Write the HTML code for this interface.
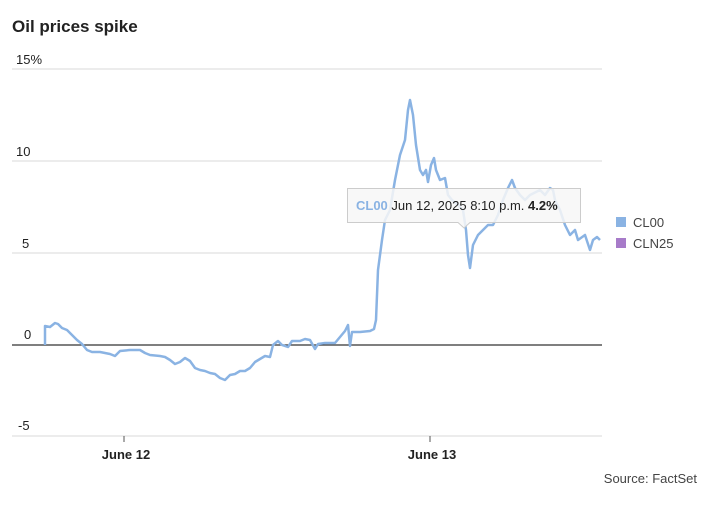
<!DOCTYPE html>
<html><head><style>
body{margin:0;background:#fff;font-family:"Liberation Sans",sans-serif;}
</style></head><body>
<svg width="710" height="511" xmlns="http://www.w3.org/2000/svg" style="display:block">
<text x="12" y="32" font-size="17" font-weight="bold" fill="#222">Oil prices spike</text>
<g stroke="#e6e6e6" stroke-width="1.5">
<line x1="12" x2="602" y1="69" y2="69"/><line x1="12" x2="602" y1="161" y2="161"/>
<line x1="12" x2="602" y1="253" y2="253"/><line x1="12" x2="602" y1="436" y2="436"/>
</g>
<line x1="12" x2="602" y1="345" y2="345" stroke="#333" stroke-width="1.2"/>
<g font-size="13" fill="#222">
<text x="16" y="64">15%</text><text x="16" y="156">10</text><text x="22" y="248">5</text>
<text x="24" y="339">0</text><text x="18" y="430">-5</text>
</g>
<line x1="124" x2="124" y1="436" y2="442" stroke="#555"/>
<line x1="430" x2="430" y1="436" y2="442" stroke="#555"/>
<g font-size="13" font-weight="bold" fill="#222" text-anchor="middle">
<text x="126" y="459">June 12</text><text x="432" y="459">June 13</text></g>
<text x="697" y="483" font-size="13" fill="#444" text-anchor="end">Source: FactSet</text>
<polyline fill="none" stroke="#8ab3e3" stroke-width="2.5" stroke-linejoin="round" points="45,345 45,326 50,327 55,323 58,324 62,328 67,330 72,335 77,340 82,344 87,350 92,352 100,352 110,354 115,356 120,351 130,350 140,350 145,353 150,355 160,356 165,357 170,360 175,364 180,362 185,358 190,361 195,368 200,370 205,371 210,373 215,374 220,378 225,380 230,375 235,374 240,371 245,371 250,368 255,362 260,359 265,356 270,357 273,345 278,341 282,345 288,347 292,341 300,341 305,339 310,340 315,349 318,344 325,343 335,343 340,337 345,331 348,325 350,346 352,332 360,332 370,331 374,329 376,320 378,270 380,255 382,240 385,220 390,210 395,180 400,155 405,140 408,110 410,100 413,115 416,145 420,170 423,175 426,170 428,182 431,165 434,158 436,170 440,180 445,178 448,195 452,200 458,205 463,210 466,230 468,255 470,268 473,245 478,235 483,230 488,225 493,225 498,215 503,200 508,188 512,180 515,188 520,195 525,200 530,195 540,190 545,195 550,188 553,190 555,200 560,210 565,225 570,235 575,230 578,240 585,235 590,250 593,240 597,237 600,240"/>
<path d="M347.5,188.5 H580.5 V222.5 H470 L464,228 L458,222.5 H347.5 Z" fill="rgba(247,247,247,0.85)" stroke="#ccc"/>
<text x="356" y="210" font-size="13"><tspan fill="#8ab3e3" font-weight="bold">CL00</tspan><tspan fill="#222"> Jun 12, 2025 8:10 p.m. </tspan><tspan fill="#222" font-weight="bold">4.2%</tspan></text>
<rect x="616" y="217" width="10" height="10" fill="#8ab3e3"/>
<rect x="616" y="238" width="10" height="10" fill="#a77bc9"/>
<g font-size="13" fill="#444"><text x="633" y="227">CL00</text><text x="633" y="248">CLN25</text></g>
</svg>
</body></html>
